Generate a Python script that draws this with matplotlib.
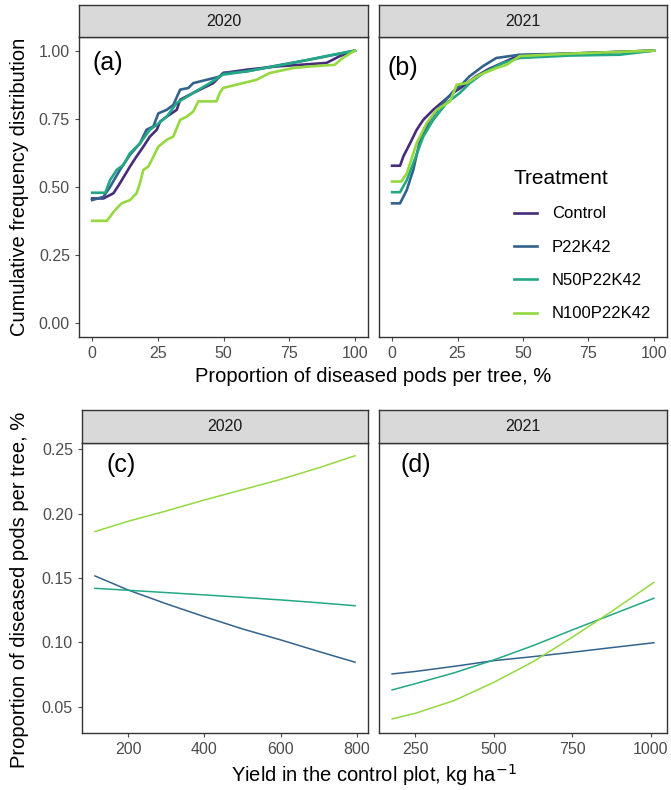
import matplotlib.pyplot as plt
from matplotlib.ticker import FormatStrFormatter

plt.rcParams['font.family'] = ['Liberation Sans', 'DejaVu Sans']

treatments = ['Control', 'P22K42', 'N50P22K42', 'N100P22K42']
colors = ['#472C7A', '#33638D', '#22A884', '#95D840']

# (a) 2020 cumulative distributions: x = % diseased pods, y = cumulative frequency
a_x = {
    'Control': [0, 4.3, 8.1, 10.6, 14.4, 16.9, 19.5, 22, 24.6, 25.9, 28.4, 32.2, 33.5, 38.5, 43.6, 46.1, 49.9, 58.8, 70.2, 79.1, 89.2, 94.3, 100],
    'P22K42': [0, 4.3, 6.8, 10.6, 14.4, 18.2, 20.7, 23.3, 25.2, 28.4, 30.9, 33.5, 36.6, 38.5, 43.6, 48.6, 49.8, 58.8, 70.2, 82.8, 100],
    'N50P22K42': [0, 5, 6.8, 9.4, 11.9, 14.4, 18.2, 22, 24.6, 28.4, 32.2, 38.5, 44.8, 49.8, 58.8, 76.4, 89.1, 100],
    'N100P22K42': [0, 5.6, 8.7, 11.2, 14.4, 16.9, 18.2, 19.5, 21.4, 23.3, 25.2, 28.4, 30.9, 33.5, 36, 38.5, 40.4, 47.3, 48.6, 49.8, 54.9, 62.5, 67.6, 76.4, 82.8, 92.3, 95.4, 100],
}
a_y = {
    'Control': [0.458, 0.458, 0.477, 0.514, 0.575, 0.612, 0.648, 0.685, 0.710, 0.740, 0.758, 0.783, 0.820, 0.845, 0.869, 0.881, 0.918, 0.930, 0.942, 0.948, 0.955, 0.980, 1.0],
    'P22K42': [0.452, 0.464, 0.500, 0.563, 0.618, 0.660, 0.710, 0.722, 0.770, 0.783, 0.801, 0.857, 0.863, 0.881, 0.893, 0.905, 0.918, 0.924, 0.945, 0.967, 1.0],
    'N50P22K42': [0.479, 0.479, 0.525, 0.563, 0.581, 0.624, 0.660, 0.710, 0.728, 0.758, 0.808, 0.845, 0.881, 0.912, 0.924, 0.955, 0.980, 1.0],
    'N100P22K42': [0.376, 0.376, 0.415, 0.440, 0.452, 0.477, 0.514, 0.563, 0.575, 0.611, 0.648, 0.673, 0.685, 0.746, 0.758, 0.777, 0.814, 0.814, 0.845, 0.863, 0.875, 0.893, 0.918, 0.936, 0.942, 0.948, 0.973, 1.0],
}

# (b) 2021 cumulative distributions
b_x = {
    'Control': [0, 3.05, 4.3, 6.9, 9.4, 11.9, 15.7, 19.5, 23.3, 27, 32.1, 37, 44.9, 48.7, 67.8, 100],
    'P22K42': [0, 3.05, 5.6, 8.1, 10.7, 14.5, 18.3, 23.4, 27.1, 29.6, 34.7, 39.8, 48.7, 67.8, 100],
    'N50P22K42': [0, 3.05, 5.6, 8.1, 11.9, 15.7, 20.8, 25.9, 29.7, 34.8, 42.4, 48.7, 67.8, 86.9, 100],
    'N100P22K42': [0, 3.5, 5.6, 9.4, 13.2, 17, 22.1, 24.7, 28.5, 33.6, 39.9, 43.7, 48.8, 67.8, 100],
}
b_y = {
    'Control': [0.578, 0.578, 0.612, 0.661, 0.710, 0.746, 0.783, 0.814, 0.845, 0.869, 0.906, 0.933, 0.967, 0.982, 0.989, 1.0],
    'P22K42': [0.440, 0.440, 0.489, 0.563, 0.673, 0.746, 0.795, 0.851, 0.881, 0.906, 0.943, 0.973, 0.985, 0.989, 1.0],
    'N50P22K42': [0.481, 0.481, 0.525, 0.587, 0.685, 0.746, 0.808, 0.845, 0.881, 0.918, 0.955, 0.973, 0.982, 0.985, 1.0],
    'N100P22K42': [0.520, 0.520, 0.550, 0.661, 0.734, 0.783, 0.814, 0.875, 0.881, 0.912, 0.936, 0.948, 0.980, 0.989, 1.0],
}

# (c) 2020 predicted proportion vs yield in control plot
c_x = [113, 200, 300, 400, 500, 600, 700, 795]
c_y = {
    'P22K42': [0.1516, 0.1407, 0.1300, 0.1200, 0.1105, 0.1020, 0.0930, 0.0847],
    'N50P22K42': [0.1420, 0.1405, 0.1387, 0.1369, 0.1350, 0.1330, 0.1308, 0.1285],
    'N100P22K42': [0.1860, 0.1940, 0.2020, 0.2105, 0.2185, 0.2265, 0.2355, 0.2448],
}

# (d) 2021 predicted proportion vs yield in control plot
d_x = [177, 250, 375, 500, 625, 750, 875, 1010]
d_y = {
    'P22K42': [0.0756, 0.0775, 0.0815, 0.0859, 0.0890, 0.0924, 0.0960, 0.0998],
    'N50P22K42': [0.0632, 0.0680, 0.0765, 0.0864, 0.0975, 0.1097, 0.1215, 0.1343],
    'N100P22K42': [0.0407, 0.0450, 0.0550, 0.0690, 0.0850, 0.1040, 0.1240, 0.1466],
}

W, H = 671, 790
fig = plt.figure(figsize=(W / 100, H / 100), dpi=100)

edge = '#333333'
tickc = '#4D4D4D'


def box(x0, y0, x1, y1):
    return [x0 / W, 1 - y1 / H, (x1 - x0) / W, (y1 - y0) / H]


def panel(x0, x1, y0, y1, strip_top, year):
    ax = fig.add_axes(box(x0, y0, x1, y1))
    st = fig.add_axes(box(x0, strip_top, x1, y0))
    st.set_facecolor('#D9D9D9')
    st.set_xticks([])
    st.set_yticks([])
    st.text(0.5, 0.5, year, ha='center', va='center', fontsize=11.5, color='#1A1A1A')
    for a in (ax, st):
        for s in a.spines.values():
            s.set_color(edge)
            s.set_linewidth(1.0)
    ax.tick_params(colors=tickc, labelcolor=tickc, labelsize=11.5, length=3, width=0.8)
    return ax


ax_a = panel(79, 368, 37, 337, 5, '2020')
ax_b = panel(379, 667, 37, 337, 5, '2021')
ax_c = panel(82, 368, 443, 733, 410, '2020')
ax_d = panel(379, 667, 443, 733, 410, '2021')

for i, t in enumerate(treatments):
    ax_a.plot(a_x[t], a_y[t], color=colors[i], lw=1.9, label=t)
    ax_b.plot(b_x[t], b_y[t], color=colors[i], lw=1.9, label=t)
for i, t in enumerate(treatments):
    if t in c_y:
        ax_c.plot(c_x, c_y[t], color=colors[i], lw=1.1)
        ax_d.plot(d_x, d_y[t], color=colors[i], lw=1.1)

for ax in (ax_a, ax_b):
    ax.set_xlim(-5, 105)
    ax.set_ylim(-0.05, 1.05)
    ax.set_xticks([0, 25, 50, 75, 100])
    ax.set_yticks([0, 0.25, 0.5, 0.75, 1.0])
    ax.yaxis.set_major_formatter(FormatStrFormatter('%.2f'))

ax_c.set_xlim(79, 829)
ax_c.set_xticks([200, 400, 600, 800])
ax_d.set_xlim(135.4, 1051.7)
ax_d.set_xticks([250, 500, 750, 1000])
for ax in (ax_c, ax_d):
    ax.set_ylim(0.0298, 0.2547)
    ax.set_yticks([0.05, 0.10, 0.15, 0.20, 0.25])
    ax.yaxis.set_major_formatter(FormatStrFormatter('%.2f'))

for ax in (ax_b, ax_d):
    ax.tick_params(axis='y', left=False, labelleft=False)

ax_a.text(0.045, 0.913, '(a)', transform=ax_a.transAxes, fontsize=18, va='center', ha='left')
ax_b.text(0.031, 0.897, '(b)', transform=ax_b.transAxes, fontsize=18, va='center', ha='left')
ax_c.text(0.087, 0.924, '(c)', transform=ax_c.transAxes, fontsize=18, va='center', ha='left')
ax_d.text(0.073, 0.924, '(d)', transform=ax_d.transAxes, fontsize=18, va='center', ha='left')

leg = ax_b.legend(title='Treatment', loc='upper left', bbox_to_anchor=(0.415, 0.61),
                  frameon=False, fontsize=12, title_fontsize=15, handlelength=1.4,
                  labelspacing=1.1, handletextpad=0.9, alignment='left')

fig.text(20 / W, 1 - 187 / H, 'Cumulative frequency distribution', rotation=90,
         ha='center', va='center', fontsize=14.5)
fig.text(373 / W, 1 - 377 / H, 'Proportion of diseased pods per tree, %',
         ha='center', va='center', fontsize=14.5)
fig.text(20 / W, 1 - 590 / H, 'Proportion of diseased pods per tree, %', rotation=90,
         ha='center', va='center', fontsize=14.5)
fig.text(374 / W, 1 - 775 / H, 'Yield in the control plot, kg ha$^{-1}$',
         ha='center', va='center', fontsize=14.5)

fig.savefig('out.png', dpi=100)
